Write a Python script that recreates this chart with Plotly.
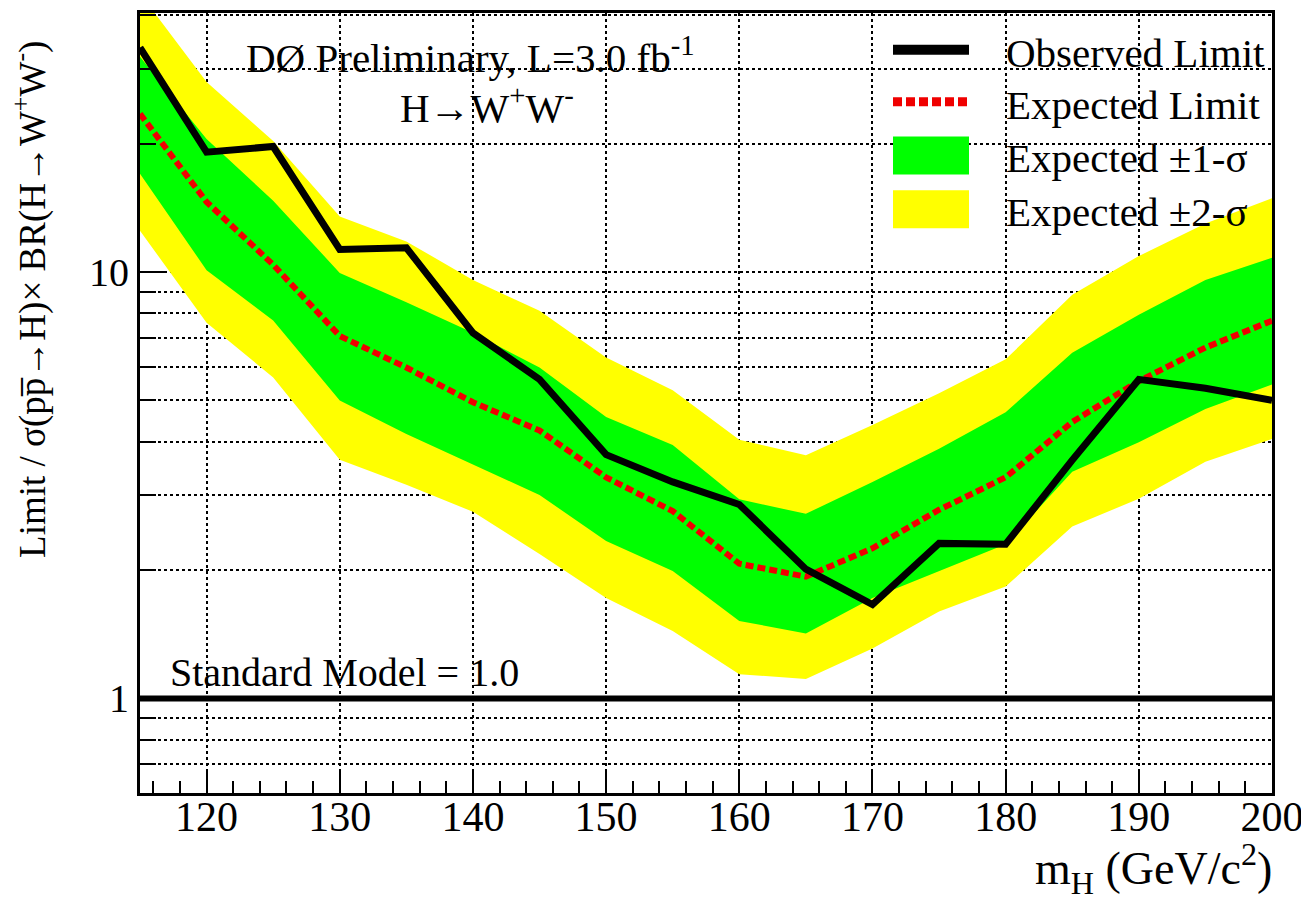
import plotly.graph_objects as go

# Higgs mass points (GeV/c^2)
mass = [115, 120, 125, 130, 135, 140, 145, 150, 155, 160,
        165, 170, 175, 180, 185, 190, 195, 200]

# limit / SM
observed = [33.6, 19.1, 19.7, 11.3, 11.4, 7.2, 5.6, 3.73, 3.22, 2.85,
            2.01, 1.66, 2.31, 2.30, 3.62, 5.6, 5.34, 5.0]
expected = [23.5, 14.6, 10.4, 7.08, 5.97, 4.95, 4.25, 3.3, 2.75, 2.07,
            1.93, 2.25, 2.77, 3.3, 4.45, 5.55, 6.65, 7.69]
sig1_lo = [17.0, 10.1, 7.7, 5.0, 4.17, 3.53, 3.0, 2.34, 1.99, 1.52,
           1.42, 1.72, 1.99, 2.30, 3.40, 3.99, 4.77, 5.45]
sig1_hi = [32.0, 20.5, 14.7, 9.95, 8.5, 7.2, 5.97, 4.57, 3.93, 2.93,
           2.71, 3.22, 3.85, 4.69, 6.47, 7.94, 9.58, 10.8]
sig2_lo = [12.5, 7.6, 5.66, 3.63, 3.17, 2.74, 2.18, 1.72, 1.44, 1.14,
           1.11, 1.31, 1.60, 1.83, 2.53, 2.94, 3.59, 4.06]
sig2_hi = [45.0, 27.9, 20.3, 13.5, 11.8, 9.58, 8.11, 6.3, 5.28, 4.04,
           3.72, 4.38, 5.2, 6.24, 8.84, 10.9, 13.0, 14.9]

sm_x = [115, 200]
sm_y = [1.0, 1.0]

x_ticks = [120, 130, 140, 150, 160, 170, 180, 190, 200]
y_ticks = [1, 10]
y_minor = [0.7, 0.8, 0.9, 2, 3, 4, 5, 6, 7, 8, 9, 20, 30, 40]

legend_labels = ["Observed Limit", "Expected Limit",
                 "Expected \u00b11-\u03c3", "Expected \u00b12-\u03c3"]
legend_colors = ["black", "#f00000", "#00ff00", "#ffff00"]

FONT = "Liberation Serif"
GREEN = "#00ff00"
YELLOW = "#ffff00"
RED = "#f00000"

# page size and the body margin the browser adds round the div
PW, PH = 1309, 901
OX, OY = 8, 8
# plot area in page pixels
L, R, T, B = 140, 1272, 10, 793


def px_x(p):
    return (p - L) / (R - L)


def px_y(p):
    return (B - p) / (B - T)


fig = go.Figure()

# +-2 sigma band
fig.add_trace(go.Scatter(x=mass, y=sig2_lo, mode="lines", line=dict(width=0),
                         showlegend=False, hoverinfo="skip"))
fig.add_trace(go.Scatter(x=mass, y=sig2_hi, mode="lines", line=dict(width=0),
                         fill="tonexty", fillcolor=YELLOW, showlegend=False))
# +-1 sigma band
fig.add_trace(go.Scatter(x=mass, y=sig1_lo, mode="lines", line=dict(width=0),
                         showlegend=False, hoverinfo="skip"))
fig.add_trace(go.Scatter(x=mass, y=sig1_hi, mode="lines", line=dict(width=0),
                         fill="tonexty", fillcolor=GREEN, showlegend=False))

# SM line
fig.add_trace(go.Scatter(x=sm_x, y=sm_y, mode="lines",
                         line=dict(color="black", width=6), showlegend=False))

# expected + observed
fig.add_trace(go.Scatter(x=mass, y=expected, mode="lines",
                         line=dict(color=RED, width=6, dash="8px,4px"),
                         showlegend=False))
fig.add_trace(go.Scatter(x=mass, y=observed, mode="lines",
                         line=dict(color="black", width=7), showlegend=False))

# hand made legend (ROOT style boxes)
sw_x0, sw_x1 = px_x(893), px_x(969)
rows = [47, 99, 153, 207]
shapes = []
shapes.append(dict(type="line", xref="paper", yref="paper", x0=sw_x0, x1=sw_x1,
                   y0=px_y(rows[0]), y1=px_y(rows[0]),
                   line=dict(color=legend_colors[0], width=10)))
shapes.append(dict(type="line", xref="paper", yref="paper", x0=sw_x0, x1=sw_x1,
                   y0=px_y(rows[1]), y1=px_y(rows[1]),
                   line=dict(color=legend_colors[1], width=9, dash="9px,4px")))
for i in (2, 3):
    shapes.append(dict(type="rect", xref="paper", yref="paper", x0=sw_x0, x1=sw_x1,
                       y0=px_y(rows[i] + 19), y1=px_y(rows[i] - 19),
                       fillcolor=legend_colors[i], line=dict(width=0)))

annotations = []
for i, lab in enumerate(legend_labels):
    annotations.append(dict(text=lab, xref="paper", yref="paper",
                            x=px_x(1004), y=px_y(rows[i] + 3),
                            xanchor="left", yanchor="middle", showarrow=False,
                            font=dict(family=FONT, size=41, color="black")))

annotations += [
    dict(text="D\u00d8 Preliminary, L=3.0 fb<sup>-1</sup>", xref="paper", yref="paper",
         x=px_x(470), y=px_y(52), xanchor="center", yanchor="middle", showarrow=False,
         font=dict(family=FONT, size=41, color="black")),
    dict(text="H\u2192W<sup>+</sup>W<sup>-</sup>", xref="paper", yref="paper",
         x=px_x(487), y=px_y(102), xanchor="center", yanchor="middle", showarrow=False,
         font=dict(family=FONT, size=41, color="black")),
    dict(text="Standard Model = 1.0", xref="paper", yref="paper",
         x=px_x(168), y=px_y(672), xanchor="left", yanchor="middle", showarrow=False,
         font=dict(family=FONT, size=40, color="black")),
    dict(text="m<sub>H</sub> (GeV/c<sup>2</sup>)", xref="paper", yref="paper",
         x=px_x(1274), y=px_y(869), xanchor="right", yanchor="middle", showarrow=False,
         font=dict(family=FONT, size=46, color="black")),
    dict(text="Limit / \u03c3(pp\u0305\u2192H)\u00d7 BR(H\u2192W<sup>+</sup>W<sup>-</sup>)",
         xref="paper", yref="paper", x=px_x(30), y=px_y(298), textangle=-90,
         xanchor="center", yanchor="middle", showarrow=False,
         font=dict(family=FONT, size=37, color="black")),
]

fig.update_layout(
    width=PW - OX, height=PH - OY,
    margin=dict(l=L - OX, r=PW - R, t=T - OY, b=PH - B),
    plot_bgcolor="white", paper_bgcolor="white",
    font=dict(family=FONT, color="black"),
    showlegend=False,
    shapes=shapes,
    annotations=annotations,
)

fig.update_xaxes(
    range=[115, 200], tickvals=x_ticks, ticks="inside", ticklen=23, tickwidth=2,
    tickcolor="black", showline=True, linecolor="black", linewidth=3, mirror=True,
    showgrid=True, gridcolor="black", griddash="dot", gridwidth=2,
    tickfont=dict(family=FONT, size=42, color="black"), zeroline=False,
    ticklabelstandoff=-15,
    minor=dict(dtick=2, tick0=0, ticks="inside", ticklen=12, tickwidth=2,
               tickcolor="black", showgrid=False),
)

fig.update_yaxes(
    type="log", range=[-0.2218, 1.6075], tickvals=y_ticks, ticktext=["1", "10"],
    ticks="inside", ticklen=27, tickwidth=2, tickcolor="black",
    showline=True, linecolor="black", linewidth=3, mirror=True,
    showgrid=True, gridcolor="black", griddash="dot", gridwidth=2,
    tickfont=dict(family=FONT, size=40, color="black"), zeroline=False,
    minor=dict(tickmode="array", tickvals=y_minor, ticks="inside", ticklen=16,
               tickwidth=2, tickcolor="black", showgrid=True, gridcolor="black",
               griddash="dot", gridwidth=2),
)

fig.write_html("out.html")
